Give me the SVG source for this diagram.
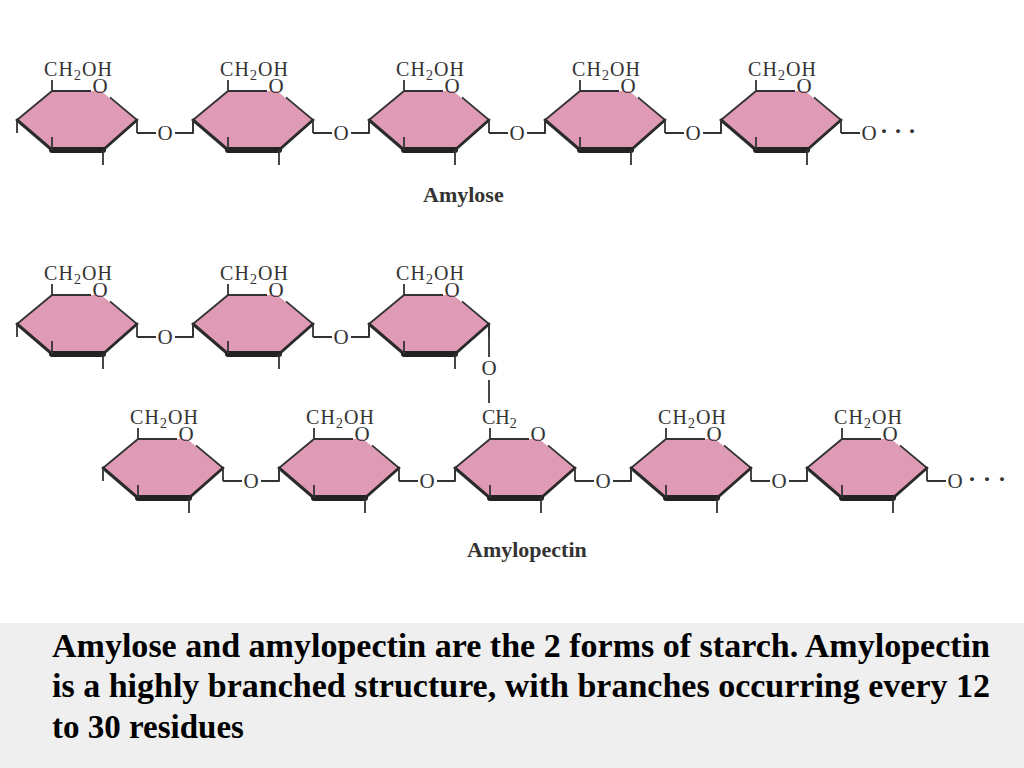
<svg xmlns="http://www.w3.org/2000/svg" xmlns:xlink="http://www.w3.org/1999/xlink" width="1024" height="768" viewBox="0 0 1024 768">
<style>
.fill{fill:#DF9BB5;stroke:none}
.thin{fill:none;stroke:#333;stroke-width:1.8;stroke-linecap:butt;stroke-linejoin:round}
.mid{fill:none;stroke:#2a2a2a;stroke-width:3;stroke-linecap:round}
.bold{fill:none;stroke:#222;stroke-width:6;stroke-linecap:round}
.lbl{font-family:"Liberation Serif","Times New Roman",serif;font-size:20px;fill:#333}
.atom{font-family:"Liberation Serif","Times New Roman",serif;font-size:21px;fill:#333;text-anchor:middle}
.dots{font-family:"Liberation Serif","Times New Roman",serif;font-size:24px;font-weight:bold;fill:#333;letter-spacing:6px}
.name{font-family:"Liberation Serif","Times New Roman",serif;font-size:22px;font-weight:bold;fill:#333}
.cap{font-family:"Liberation Serif","Times New Roman",serif;font-size:33px;font-weight:bold;fill:#000}
.sub{font-size:14px}
</style>
<defs>
<g id="ring">
<polygon class="fill" points="0,0 35,-29 84,-29 120,0 86,30 35,30"/>
<path class="thin" d="M0,0 L35,-29 L74,-29 M93,-22.6 L120,0"/>
<path class="mid" d="M0,0 L35,30 M86,30 L120,0"/>
<path class="bold" d="M35,30 L86,30"/>
<path class="thin" d="M0,0 V13 M35,30 V17 M86,30 V45 M120,0 V13 M35,-29 V-40"/>
<text class="atom" x="83" y="-27">O</text>
</g>
</defs>
<rect x="0" y="0" width="1024" height="768" fill="#FFFFFF"/>
<rect x="0" y="623" width="1024" height="145" fill="#EFEFEF"/>

<g id="amylose-1"><use xlink:href="#ring" href="#ring" x="17" y="120"/><text class="lbl" x="44" y="76" textLength="68">CH<tspan class="sub" dy="4">2</tspan><tspan dy="-4">OH</tspan></text></g>
<g id="amylose-2"><use xlink:href="#ring" href="#ring" x="193" y="120"/><text class="lbl" x="220" y="76" textLength="68">CH<tspan class="sub" dy="4">2</tspan><tspan dy="-4">OH</tspan></text></g>
<g id="amylose-3"><use xlink:href="#ring" href="#ring" x="369" y="120"/><text class="lbl" x="396" y="76" textLength="68">CH<tspan class="sub" dy="4">2</tspan><tspan dy="-4">OH</tspan></text></g>
<g id="amylose-4"><use xlink:href="#ring" href="#ring" x="545" y="120"/><text class="lbl" x="572" y="76" textLength="68">CH<tspan class="sub" dy="4">2</tspan><tspan dy="-4">OH</tspan></text></g>
<g id="amylose-5"><use xlink:href="#ring" href="#ring" x="721" y="120"/><text class="lbl" x="748" y="76" textLength="68">CH<tspan class="sub" dy="4">2</tspan><tspan dy="-4">OH</tspan></text></g>
<text id="label-amylose" class="name" x="423" y="202">Amylose</text>

<g id="amylopectin-a1"><use xlink:href="#ring" href="#ring" x="17" y="324"/><text class="lbl" x="44" y="280" textLength="68">CH<tspan class="sub" dy="4">2</tspan><tspan dy="-4">OH</tspan></text></g>
<g id="amylopectin-a2"><use xlink:href="#ring" href="#ring" x="193" y="324"/><text class="lbl" x="220" y="280" textLength="68">CH<tspan class="sub" dy="4">2</tspan><tspan dy="-4">OH</tspan></text></g>
<g id="amylopectin-a3"><use xlink:href="#ring" href="#ring" x="369" y="324"/><text class="lbl" x="396" y="280" textLength="68">CH<tspan class="sub" dy="4">2</tspan><tspan dy="-4">OH</tspan></text></g>

<g id="amylopectin-b1"><use xlink:href="#ring" href="#ring" x="103" y="468"/><text class="lbl" x="130" y="424" textLength="68">CH<tspan class="sub" dy="4">2</tspan><tspan dy="-4">OH</tspan></text></g>
<g id="amylopectin-b2"><use xlink:href="#ring" href="#ring" x="279" y="468"/><text class="lbl" x="306" y="424" textLength="68">CH<tspan class="sub" dy="4">2</tspan><tspan dy="-4">OH</tspan></text></g>
<g id="amylopectin-b3"><use xlink:href="#ring" href="#ring" x="455" y="468"/><text class="lbl" x="482" y="424">CH<tspan class="sub" dy="4">2</tspan></text></g>
<g id="amylopectin-b4"><use xlink:href="#ring" href="#ring" x="631" y="468"/><text class="lbl" x="658" y="424" textLength="68">CH<tspan class="sub" dy="4">2</tspan><tspan dy="-4">OH</tspan></text></g>
<g id="amylopectin-b5"><use xlink:href="#ring" href="#ring" x="807" y="468"/><text class="lbl" x="834" y="424" textLength="68">CH<tspan class="sub" dy="4">2</tspan><tspan dy="-4">OH</tspan></text></g>
<text id="label-amylopectin" class="name" x="467" y="557">Amylopectin</text>

<g id="connectors">
<path class="thin" d="M137,133 H156 M175,133 H193 V120 M313,133 H332 M351,133 H369 V120 M489,133 H508 M527,133 H545 V120 M665,133 H684 M703,133 H721 V120 M841,133 H860"/>
<text class="atom" x="165" y="140">O</text>
<text class="atom" x="341" y="140">O</text>
<text class="atom" x="517" y="140">O</text>
<text class="atom" x="693" y="140">O</text>
<text class="atom" x="869" y="140">O</text>
<text class="dots" x="880" y="139">···</text>

<path class="thin" d="M137,337 H156 M175,337 H193 V324 M313,337 H332 M351,337 H369 V324"/>
<text class="atom" x="165" y="344">O</text>
<text class="atom" x="341" y="344">O</text>

<path class="thin" d="M489,324 V357 M489,380 V403"/>
<text class="atom" x="489" y="375">O</text>

<path class="thin" d="M223,481 H242 M261,481 H279 V468 M399,481 H418 M437,481 H455 V468 M575,481 H594 M613,481 H631 V468 M751,481 H770 M789,481 H807 V468 M927,481 H946"/>
<text class="atom" x="251" y="488">O</text>
<text class="atom" x="427" y="488">O</text>
<text class="atom" x="603" y="488">O</text>
<text class="atom" x="779" y="488">O</text>
<text class="atom" x="955" y="488">O</text>
<text class="dots" x="968" y="487" style="letter-spacing:7px">···</text>
</g>

<g id="caption">
<text class="cap" x="52" y="657" textLength="938" lengthAdjust="spacingAndGlyphs">Amylose and amylopectin are the 2 forms of starch. Amylopectin</text>
<text class="cap" x="52" y="697" textLength="938" lengthAdjust="spacingAndGlyphs">is a highly branched structure, with branches occurring every 12</text>
<text class="cap" x="52" y="738">to 30 residues</text>
</g>
</svg>
